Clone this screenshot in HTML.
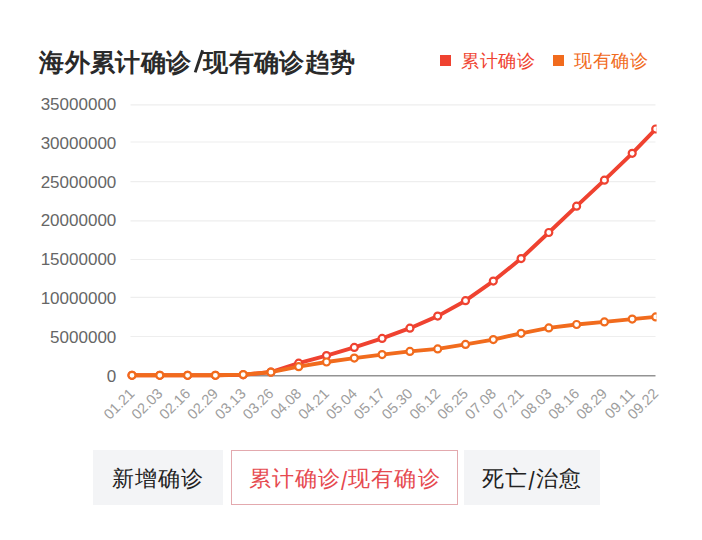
<!DOCTYPE html>
<html><head><meta charset="utf-8"><style>
*{margin:0;padding:0;box-sizing:border-box}
html,body{width:702px;height:540px;background:#fff;overflow:hidden}
body{position:relative;font-family:"Liberation Sans",sans-serif}
.title{position:absolute;left:39.3px;top:46.7px;font-size:25px;letter-spacing:0.4px;font-weight:bold;color:#2a2a2a;white-space:nowrap;line-height:30px}
.sl{display:inline-block;width:11.6px;text-align:center;letter-spacing:0}
.leg{position:absolute;top:50.2px;font-size:18px;letter-spacing:0.6px;line-height:22px;white-space:nowrap}
.sq{position:absolute;width:11px;height:11px}
.yl{font-family:"Liberation Sans",sans-serif;font-size:17px;fill:#666}
.xl{font-family:"Liberation Sans",sans-serif;font-size:14.6px;fill:#9d9d9d}
.btn{position:absolute;top:450.3px;height:55.2px;line-height:57.6px;font-size:22px;letter-spacing:1.1px;text-align:center;color:#222;background:#f3f4f6;white-space:nowrap}
.bs{display:inline-block;transform:translateY(2.6px) scaleY(1.17)}
.act{background:#fff;border:1px solid #e3a9ae;color:#e64a50;line-height:55.6px}
</style></head><body>
<div class="title">海外累计确诊<span class="sl"> </span>现有确诊趋势</div>
<div class="sq" style="left:440px;top:55px;background:#ef4230"></div>
<div class="leg" style="left:461px;color:#ef4230">累计确诊</div>
<div class="sq" style="left:552.5px;top:55px;background:#f16b1d"></div>
<div class="leg" style="left:574px;color:#f16b1d">现有确诊</div>
<svg width="702" height="540" viewBox="0 0 702 540" style="position:absolute;left:0;top:0"><defs><clipPath id="c"><rect x="0" y="80" width="656.6" height="320"/></clipPath></defs><line x1="130.5" x2="655.5" y1="104.8" y2="104.8" stroke="#eeeeee" stroke-width="1.2"/><line x1="130.5" x2="655.5" y1="142.0" y2="142.0" stroke="#eeeeee" stroke-width="1.2"/><line x1="130.5" x2="655.5" y1="181.6" y2="181.6" stroke="#eeeeee" stroke-width="1.2"/><line x1="130.5" x2="655.5" y1="220.8" y2="220.8" stroke="#eeeeee" stroke-width="1.2"/><line x1="130.5" x2="655.5" y1="259.5" y2="259.5" stroke="#eeeeee" stroke-width="1.2"/><line x1="130.5" x2="655.5" y1="297.4" y2="297.4" stroke="#eeeeee" stroke-width="1.2"/><line x1="130.5" x2="655.5" y1="336.5" y2="336.5" stroke="#eeeeee" stroke-width="1.2"/><line x1="130.5" x2="655.5" y1="375.8" y2="375.8" stroke="#939393" stroke-width="1.6"/><text x="116.3" y="381.70" text-anchor="end" class="yl">0</text><text x="116.3" y="342.87" text-anchor="end" class="yl">5000000</text><text x="116.3" y="304.04" text-anchor="end" class="yl">10000000</text><text x="116.3" y="265.21" text-anchor="end" class="yl">15000000</text><text x="116.3" y="226.38" text-anchor="end" class="yl">20000000</text><text x="116.3" y="187.55" text-anchor="end" class="yl">25000000</text><text x="116.3" y="148.72" text-anchor="end" class="yl">30000000</text><text x="116.3" y="109.89" text-anchor="end" class="yl">35000000</text><text transform="translate(135.6,394.5) rotate(-45)" text-anchor="end" class="xl">01.21</text><text transform="translate(163.4,394.5) rotate(-45)" text-anchor="end" class="xl">02.03</text><text transform="translate(191.2,394.5) rotate(-45)" text-anchor="end" class="xl">02.16</text><text transform="translate(219.0,394.5) rotate(-45)" text-anchor="end" class="xl">02.29</text><text transform="translate(246.8,394.5) rotate(-45)" text-anchor="end" class="xl">03.13</text><text transform="translate(274.6,394.5) rotate(-45)" text-anchor="end" class="xl">03.26</text><text transform="translate(302.3,394.5) rotate(-45)" text-anchor="end" class="xl">04.08</text><text transform="translate(330.1,394.5) rotate(-45)" text-anchor="end" class="xl">04.21</text><text transform="translate(357.9,394.5) rotate(-45)" text-anchor="end" class="xl">05.04</text><text transform="translate(385.7,394.5) rotate(-45)" text-anchor="end" class="xl">05.17</text><text transform="translate(413.5,394.5) rotate(-45)" text-anchor="end" class="xl">05.30</text><text transform="translate(441.3,394.5) rotate(-45)" text-anchor="end" class="xl">06.12</text><text transform="translate(469.1,394.5) rotate(-45)" text-anchor="end" class="xl">06.25</text><text transform="translate(496.9,394.5) rotate(-45)" text-anchor="end" class="xl">07.08</text><text transform="translate(524.7,394.5) rotate(-45)" text-anchor="end" class="xl">07.21</text><text transform="translate(552.4,394.5) rotate(-45)" text-anchor="end" class="xl">08.03</text><text transform="translate(580.2,394.5) rotate(-45)" text-anchor="end" class="xl">08.16</text><text transform="translate(608.0,394.5) rotate(-45)" text-anchor="end" class="xl">08.29</text><text transform="translate(635.8,394.5) rotate(-45)" text-anchor="end" class="xl">09.11</text><text transform="translate(659.3,394.5) rotate(-45)" text-anchor="end" class="xl">09.22</text><g clip-path="url(#c)"><polyline points="132.0,375.3 159.8,375.3 187.6,375.3 215.4,375.3 243.2,374.8 270.9,372.0 298.7,363.2 326.5,355.6 354.3,347.4 382.1,338.4 409.9,328.2 437.7,316.1 465.5,300.7 493.3,281.1 521.1,258.6 548.8,232.5 576.6,206.2 604.4,180.2 632.2,153.3 655.7,129.0" fill="none" stroke="#ef4230" stroke-width="3.9" stroke-linejoin="round" stroke-linecap="round"/><circle cx="132.0" cy="375.3" r="3.5" fill="#fff" stroke="#ef4230" stroke-width="2.2"/><circle cx="159.8" cy="375.3" r="3.5" fill="#fff" stroke="#ef4230" stroke-width="2.2"/><circle cx="187.6" cy="375.3" r="3.5" fill="#fff" stroke="#ef4230" stroke-width="2.2"/><circle cx="215.4" cy="375.3" r="3.5" fill="#fff" stroke="#ef4230" stroke-width="2.2"/><circle cx="243.2" cy="374.8" r="3.5" fill="#fff" stroke="#ef4230" stroke-width="2.2"/><circle cx="270.9" cy="372.0" r="3.5" fill="#fff" stroke="#ef4230" stroke-width="2.2"/><circle cx="298.7" cy="363.2" r="3.5" fill="#fff" stroke="#ef4230" stroke-width="2.2"/><circle cx="326.5" cy="355.6" r="3.5" fill="#fff" stroke="#ef4230" stroke-width="2.2"/><circle cx="354.3" cy="347.4" r="3.5" fill="#fff" stroke="#ef4230" stroke-width="2.2"/><circle cx="382.1" cy="338.4" r="3.5" fill="#fff" stroke="#ef4230" stroke-width="2.2"/><circle cx="409.9" cy="328.2" r="3.5" fill="#fff" stroke="#ef4230" stroke-width="2.2"/><circle cx="437.7" cy="316.1" r="3.5" fill="#fff" stroke="#ef4230" stroke-width="2.2"/><circle cx="465.5" cy="300.7" r="3.5" fill="#fff" stroke="#ef4230" stroke-width="2.2"/><circle cx="493.3" cy="281.1" r="3.5" fill="#fff" stroke="#ef4230" stroke-width="2.2"/><circle cx="521.1" cy="258.6" r="3.5" fill="#fff" stroke="#ef4230" stroke-width="2.2"/><circle cx="548.8" cy="232.5" r="3.5" fill="#fff" stroke="#ef4230" stroke-width="2.2"/><circle cx="576.6" cy="206.2" r="3.5" fill="#fff" stroke="#ef4230" stroke-width="2.2"/><circle cx="604.4" cy="180.2" r="3.5" fill="#fff" stroke="#ef4230" stroke-width="2.2"/><circle cx="632.2" cy="153.3" r="3.5" fill="#fff" stroke="#ef4230" stroke-width="2.2"/><circle cx="655.7" cy="129.0" r="3.5" fill="#fff" stroke="#ef4230" stroke-width="2.2"/><polyline points="132.0,375.3 159.8,375.3 187.6,375.3 215.4,375.3 243.2,374.6 270.9,372.2 298.7,366.7 326.5,362.0 354.3,358.1 382.1,354.6 409.9,351.4 437.7,348.9 465.5,344.4 493.3,339.6 521.1,333.3 548.8,327.9 576.6,324.5 604.4,321.9 632.2,319.1 655.7,316.9" fill="none" stroke="#f16b1d" stroke-width="3.9" stroke-linejoin="round" stroke-linecap="round"/><circle cx="132.0" cy="375.3" r="3.5" fill="#fff" stroke="#f16b1d" stroke-width="2.2"/><circle cx="159.8" cy="375.3" r="3.5" fill="#fff" stroke="#f16b1d" stroke-width="2.2"/><circle cx="187.6" cy="375.3" r="3.5" fill="#fff" stroke="#f16b1d" stroke-width="2.2"/><circle cx="215.4" cy="375.3" r="3.5" fill="#fff" stroke="#f16b1d" stroke-width="2.2"/><circle cx="243.2" cy="374.6" r="3.5" fill="#fff" stroke="#f16b1d" stroke-width="2.2"/><circle cx="270.9" cy="372.2" r="3.5" fill="#fff" stroke="#f16b1d" stroke-width="2.2"/><circle cx="298.7" cy="366.7" r="3.5" fill="#fff" stroke="#f16b1d" stroke-width="2.2"/><circle cx="326.5" cy="362.0" r="3.5" fill="#fff" stroke="#f16b1d" stroke-width="2.2"/><circle cx="354.3" cy="358.1" r="3.5" fill="#fff" stroke="#f16b1d" stroke-width="2.2"/><circle cx="382.1" cy="354.6" r="3.5" fill="#fff" stroke="#f16b1d" stroke-width="2.2"/><circle cx="409.9" cy="351.4" r="3.5" fill="#fff" stroke="#f16b1d" stroke-width="2.2"/><circle cx="437.7" cy="348.9" r="3.5" fill="#fff" stroke="#f16b1d" stroke-width="2.2"/><circle cx="465.5" cy="344.4" r="3.5" fill="#fff" stroke="#f16b1d" stroke-width="2.2"/><circle cx="493.3" cy="339.6" r="3.5" fill="#fff" stroke="#f16b1d" stroke-width="2.2"/><circle cx="521.1" cy="333.3" r="3.5" fill="#fff" stroke="#f16b1d" stroke-width="2.2"/><circle cx="548.8" cy="327.9" r="3.5" fill="#fff" stroke="#f16b1d" stroke-width="2.2"/><circle cx="576.6" cy="324.5" r="3.5" fill="#fff" stroke="#f16b1d" stroke-width="2.2"/><circle cx="604.4" cy="321.9" r="3.5" fill="#fff" stroke="#f16b1d" stroke-width="2.2"/><circle cx="632.2" cy="319.1" r="3.5" fill="#fff" stroke="#f16b1d" stroke-width="2.2"/><circle cx="655.7" cy="316.9" r="3.5" fill="#fff" stroke="#f16b1d" stroke-width="2.2"/></g></svg>
<svg width="702" height="100" style="position:absolute;left:0;top:0"><line x1="195.2" y1="72.4" x2="202.6" y2="50.3" stroke="#2a2a2a" stroke-width="2.9"/></svg>
<div class="btn" style="left:93.3px;width:130.2px">新增确诊</div>
<div class="btn act" style="left:231px;width:227.3px">累计确诊<span class="bs">/</span>现有确诊</div>
<div class="btn" style="left:463.9px;width:136.4px">死亡<span class="bs">/</span>治愈</div>
</body></html>
